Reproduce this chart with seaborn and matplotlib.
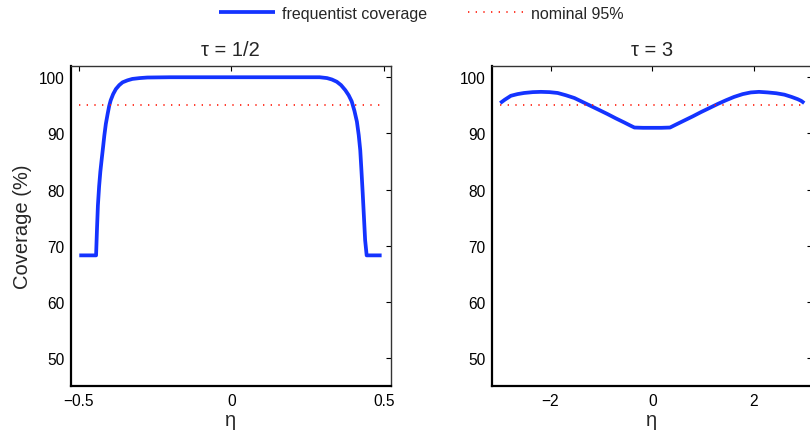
import numpy as np
import pandas as pd
import matplotlib
matplotlib.use("Agg")
import matplotlib.pyplot as plt
import seaborn as sns

# Coverage of the interval as a function of eta, for two values of tau
eta_half = [-0.498, -0.470, -0.443, -0.440, -0.437, -0.433, -0.429, -0.425,
            -0.420, -0.416, -0.411, -0.405, -0.400, -0.395, -0.387, -0.378,
            -0.367, -0.356, -0.340, -0.324, -0.300, -0.275, -0.200, 0.000,
            0.200, 0.290, 0.314, 0.330, 0.346, 0.360, 0.374, 0.385, 0.395,
            0.404, 0.412, 0.418, 0.423, 0.427, 0.431, 0.435, 0.439, 0.444,
            0.470, 0.493]
cov_half = [68.3, 68.3, 68.3, 73.0, 77.2, 80.6, 83.2, 85.2,
            87.6, 89.6, 91.7, 93.5, 94.9, 95.9, 97.0, 97.9,
            98.6, 99.1, 99.45, 99.7, 99.85, 99.95, 100.0, 100.0,
            100.0, 100.0, 99.85, 99.6, 99.2, 98.6, 97.7, 96.8, 95.7,
            94.0, 92.1, 89.7, 87.0, 83.3, 79.4, 75.2, 71.0, 68.3,
            68.3, 68.3]

eta_three = [-2.99, -2.90, -2.78, -2.65, -2.52, -2.35, -2.19, -2.02, -1.86,
             -1.70, -1.53, -1.37, -1.21, -1.05, -0.88, -0.72, -0.55, -0.43,
             -0.35, -0.18, 0.00, 0.18, 0.35, 0.45, 0.63, 0.80, 0.96, 1.12,
             1.29, 1.45, 1.61, 1.78, 1.94, 2.10, 2.27, 2.44, 2.60, 2.74,
             2.86, 2.93, 2.99]
cov_three = [95.4, 96.0, 96.7, 97.0, 97.2, 97.35, 97.4, 97.35, 97.2,
             96.8, 96.3, 95.6, 94.9, 94.2, 93.45, 92.7, 91.95, 91.4,
             91.05, 91.0, 91.0, 91.0, 91.05, 91.5, 92.3, 93.05, 93.8, 94.5,
             95.25, 95.9, 96.5, 97.0, 97.3, 97.4, 97.3, 97.15, 96.9, 96.5,
             96.1, 95.8, 95.4]

nominal = 95
titles = ["\u03c4 = 1/2", "\u03c4 = 3"]
x_ranges = [(-0.5, 0.5), (-3.0, 3.0)]
x_ticks = [[-0.5, 0, 0.5], [-2, 0, 2]]
x_ticklabels = [["\u22120.5", "0", "0.5"], ["\u22122", "0", "2"]]
y_ticks = [50, 60, 70, 80, 90, 100]

sns.set_theme(style="white")
plt.rcParams["font.family"] = ["Liberation Sans", "DejaVu Sans"]

fig = plt.figure(figsize=(8.10, 4.35), dpi=100)
ax_l = fig.add_axes([71 / 810, 1 - 387.3 / 435, 319.7 / 810, 320.3 / 435])
ax_r = fig.add_axes([492 / 810, 1 - 387.3 / 435, 319.7 / 810, 320.3 / 435])

blue = "#1433ff"
red = "#ff1a0a"

frames = [pd.DataFrame({"eta": eta_half, "coverage": cov_half}),
          pd.DataFrame({"eta": eta_three, "coverage": cov_three})]

for i, (ax, df) in enumerate(zip([ax_l, ax_r], frames)):
    lo, hi = x_ranges[i]
    sns.lineplot(data=df, x="eta", y="coverage", ax=ax, color=blue,
                 linewidth=2.7, estimator=None, sort=True,
                 label="frequentist coverage" if i == 0 else None)
    ax.lines[-1].set_solid_joinstyle("round")
    ax.lines[-1].set_solid_capstyle("butt")
    nom = pd.DataFrame({"eta": [lo, hi], "coverage": [nominal, nominal]})
    sns.lineplot(data=nom, x="eta", y="coverage", ax=ax, color=red,
                 linewidth=1.2, linestyle=(0, (0.8, 3.8)), estimator=None,
                 label="nominal 95%" if i == 0 else None)
    pad = (hi - lo) * 0.024
    ax.set_xlim(lo - 1.05 * pad, hi + 0.95 * pad)
    ax.set_ylim(45, 102)
    ax.set_xticks(x_ticks[i])
    ax.set_xticklabels(x_ticklabels[i])
    ax.set_yticks(y_ticks)
    ax.tick_params(direction="in", length=3.5, width=0.8, labelsize=11.2,
                   colors="black", top=True, right=True, pad=5)
    ax.tick_params(axis="y", pad=4.5)
    for s in ["left", "bottom"]:
        ax.spines[s].set_color("black")
        ax.spines[s].set_linewidth(1.6)
    for s in ["top", "right"]:
        ax.spines[s].set_color("#333333")
        ax.spines[s].set_linewidth(1.0)
    ax.set_title(titles[i], fontsize=14.5, pad=8)
    ax.set_xlabel("\u03b7", fontsize=14.5, labelpad=1)
    ax.set_ylabel("")
    if ax.get_legend() is not None:
        ax.get_legend().remove()

ax_l.set_ylabel("Coverage (%)", fontsize=14.5, labelpad=5)

handles, labels = ax_l.get_legend_handles_labels()
fig.legend(handles, labels, loc="center", bbox_to_anchor=(0.52, 0.967),
           ncol=2, frameon=False, fontsize=11.5, handlelength=3.5,
           columnspacing=2.6, handletextpad=0.4)

fig.savefig("out.png", dpi=100)
